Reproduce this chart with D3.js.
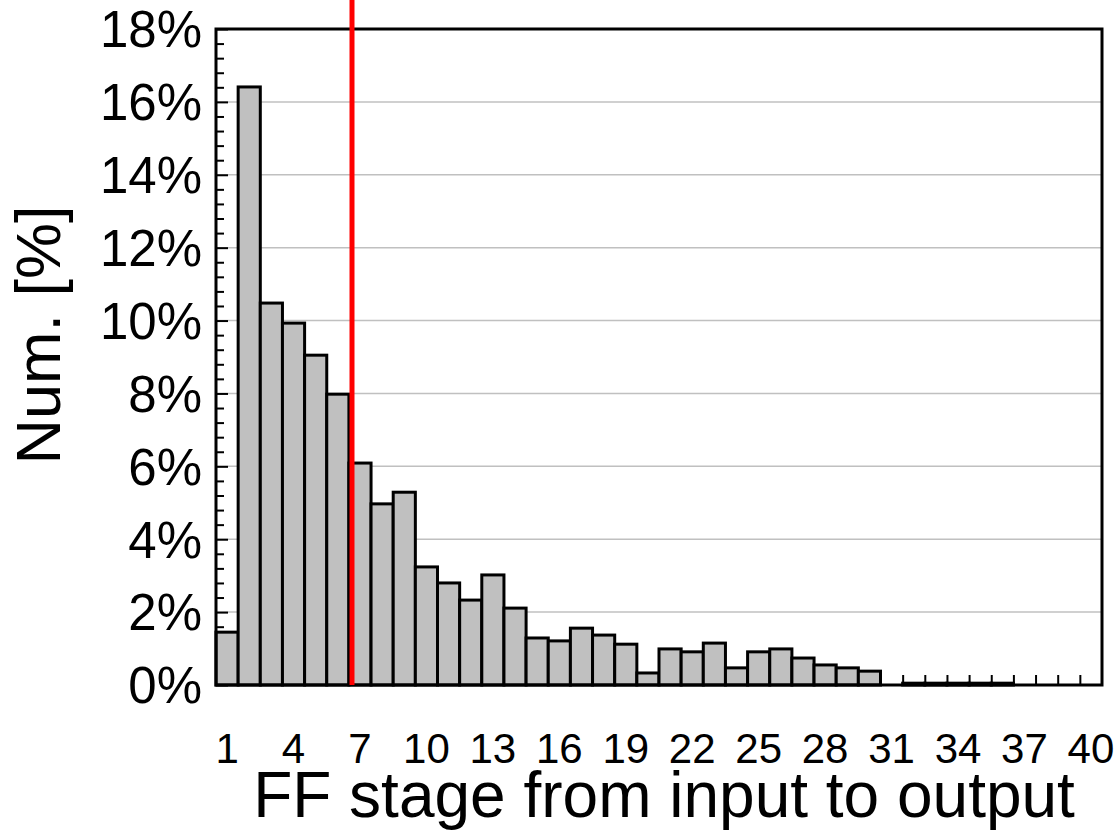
<!DOCTYPE html>
<html>
<head>
<meta charset="utf-8">
<script src="https://cdn.jsdelivr.net/npm/d3@7"></script>
<style>
  body { margin: 0; background: #fff; }
  text { font-family: "Liberation Sans", Arial, sans-serif; fill: #000; }
</style>
</head>
<body>
<svg id="chart" width="1119" height="830"></svg>
<script>
// FF stage bins and their share of flip-flops (%)
var stages = [1, 2, 3, 4, 5, 6, 7, 8, 9, 10, 11, 12, 13, 14, 15, 16, 17, 18, 19, 20,
              21, 22, 23, 24, 25, 26, 27, 28, 29, 30, 31, 32, 33, 34, 35, 36, 37, 38, 39, 40];
var shares = [1.45, 16.41, 10.48, 9.93, 9.05, 7.98, 6.09, 4.97, 5.29, 3.24,
              2.80, 2.33, 3.02, 2.11, 1.29, 1.21, 1.56, 1.37, 1.12, 0.33,
              0.99, 0.91, 1.15, 0.47, 0.91, 0.99, 0.74, 0.55, 0.47, 0.38,
              0, 0.05, 0.05, 0.05, 0.05, 0.05, 0, 0, 0, 0];
var xTickLabels = [1, 4, 7, 10, 13, 16, 19, 22, 25, 28, 31, 34, 37, 40];
var yTicks = [0, 2, 4, 6, 8, 10, 12, 14, 16, 18];
var threshold = 6.64;   // red marker position on the stage axis

var svg = d3.select("#chart");
// note: "top" is taken by window.top, hence the plot* names
var plotL = 216, plotT = 29, plotR = 1102, plotB = 685;

var x = d3.scaleLinear().domain([0.5, 40.5]).range([plotL, plotR]);
var y = d3.scaleLinear().domain([0, 18]).range([plotB, plotT]);
var binW = x(1.5) - x(0.5);

// gridlines
svg.append("g").selectAll("line")
    .data(yTicks.filter(d => d > 0 && d < 18))
    .enter().append("line")
    .attr("x1", plotL).attr("x2", plotR)
    .attr("y1", d => y(d)).attr("y2", d => y(d))
    .attr("stroke", "#c0c0c0").attr("stroke-width", 1.5);

// y axis ticks (major + minor, inward)
var yAxis = d3.axisRight(y)
    .tickValues(d3.range(0, 18.01, 0.4))
    .tickSize(8)
    .tickFormat("");
var yg = svg.append("g").attr("transform", "translate(" + plotL + ",0)").call(yAxis);
yg.select(".domain").remove();
yg.selectAll(".tick line")
    .attr("stroke", "#000").attr("stroke-width", 2)
    .attr("x2", function(d) { return Math.abs(d / 2 - Math.round(d / 2)) < 1e-6 ? 12 : 8; });

// x axis ticks at bin edges (inward)
var xAxis = d3.axisTop(x)
    .tickValues(stages.slice(0, -1).map(d => d + 0.5))
    .tickSize(10)
    .tickFormat("");
var xg = svg.append("g").attr("transform", "translate(0," + plotB + ")").call(xAxis);
xg.select(".domain").remove();
xg.selectAll(".tick line").attr("stroke", "#000").attr("stroke-width", 2);

// bars
svg.append("g").selectAll("rect")
    .data(stages.filter((s, i) => shares[i] > 0))
    .enter().append("rect")
    .attr("x", d => x(d - 0.5))
    .attr("width", binW)
    .attr("y", d => y(shares[d - 1]))
    .attr("height", d => plotB - y(shares[d - 1]))
    .attr("fill", "#c0c0c0")
    .attr("stroke", "#000")
    .attr("stroke-width", 3);

// frame
svg.append("rect")
    .attr("x", plotL).attr("y", plotT)
    .attr("width", plotR - plotL).attr("height", plotB - plotT)
    .attr("fill", "none").attr("stroke", "#000").attr("stroke-width", 3);

// red marker
svg.append("line")
    .attr("x1", x(threshold)).attr("x2", x(threshold))
    .attr("y1", 0).attr("y2", plotB)
    .attr("stroke", "#ff0000").attr("stroke-width", 5);

// y tick labels
svg.append("g").selectAll("text")
    .data(yTicks)
    .enter().append("text")
    .attr("x", 202)
    .attr("y", d => y(d))
    .attr("dy", "0.36em")
    .attr("text-anchor", "end")
    .style("font-size", "51px")
    .text(d => d + "%");

// x tick labels
svg.append("g").selectAll("text")
    .data(xTickLabels)
    .enter().append("text")
    .attr("x", d => x(d))
    .attr("y", 763)
    .attr("text-anchor", "middle")
    .style("font-size", "42px")
    .text(d => d);

// axis titles
svg.append("text")
    .attr("x", 664).attr("y", 817)
    .attr("text-anchor", "middle")
    .style("font-size", "64px")
    .text("FF stage from input to output");

svg.append("text")
    .attr("transform", "translate(60,335) rotate(-90)")
    .attr("text-anchor", "middle")
    .style("font-size", "63px")
    .text("Num. [%]");
</script>
</body>
</html>
